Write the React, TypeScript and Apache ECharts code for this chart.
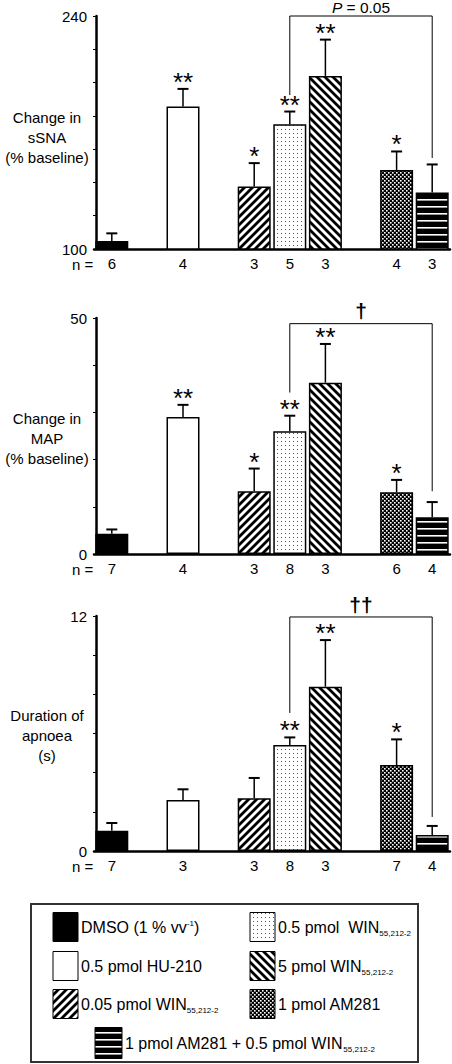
import React, { useEffect, useRef } from "react";
import * as echarts from "echarts";

const FONT = '"Liberation Sans", Arial, Helvetica, sans-serif';

// Treatments (legend order) and the x slot each one occupies
const treatments = [
  "DMSO (1 % vv-1)",
  "0.5 pmol HU-210",
  "0.05 pmol WIN55,212-2",
  "0.5 pmol WIN55,212-2",
  "5 pmol WIN55,212-2",
  "1 pmol AM281",
  "1 pmol AM281 + 0.5 pmol WIN55,212-2",
];
const slotOfTreatment = [0, 2, 4, 5, 6, 8, 9];
const SLOT_COUNT = 10;
const patternKinds = ["solid", "white", "diagUp", "dots", "diagDown", "checker", "hstripes"];

// Panel 1: change in sSNA (% baseline)
const sSNAMean = [104.8, 185.6, 137.6, 175.0, 204.0, 147.4, 134.0];
const sSNASem = [4.6, 10.6, 14.0, 7.6, 21.8, 11.2, 16.8];
const sSNAN = [6, 4, 3, 5, 3, 4, 3];
const sSNAStars = ["", "**", "*", "**", "**", "*", ""];
const sSNATicks = [100, 240];

// Panel 2: change in MAP (% baseline)
const mapMean = [4.3, 29.0, 13.3, 26.0, 36.3, 13.1, 7.8];
const mapSem = [0.9, 2.6, 4.8, 3.3, 8.2, 2.6, 3.2];
const mapN = [7, 4, 3, 8, 3, 6, 4];
const mapStars = ["", "**", "*", "**", "**", "*", ""];
const mapTicks = [0, 50];

// Panel 3: duration of apnoea (s)
const apnMean = [1.04, 2.6, 2.69, 5.41, 8.39, 4.39, 0.82];
const apnSem = [0.39, 0.55, 1.04, 0.39, 2.38, 1.31, 0.46];
const apnN = [7, 3, 3, 8, 3, 7, 4];
const apnStars = ["", "", "", "**", "**", "*", ""];
const apnTicks = [0, 12];

// Comparison brackets (0.5 pmol WIN vs AM281 + WIN): [top, left end, right end]
const bracketSSNA = [240, 192.5, 154.7];
const bracketMAP = [48.8, 34.2, 13.3];
const bracketApn = [11.95, 7.05, 1.74];

type Panel = {
  mean: number[];
  sem: number[];
  n: number[];
  stars: string[];
  ticks: number[];
  min: number;
  max: number;
  interval: number;
  title: string;
  titleY: number;
  top: number;
  height: number;
  bracket: number[];
  bracketLabel: string;
  labelGap: number;
};

const panels: Panel[] = [
  { mean: sSNAMean, sem: sSNASem, n: sSNAN, stars: sSNAStars, ticks: sSNATicks, min: 100, max: 240, interval: 20,
    title: "Change in\nsSNA\n(% baseline)", titleY: 137, top: 16, height: 233, bracket: bracketSSNA,
    bracketLabel: "{i|P}{n| = 0.05}", labelGap: 9 },
  { mean: mapMean, sem: mapSem, n: mapN, stars: mapStars, ticks: mapTicks, min: 0, max: 50, interval: 10,
    title: "Change in\nMAP\n(% baseline)", titleY: 438, top: 318, height: 236, bracket: bracketMAP,
    bracketLabel: "{d|†}", labelGap: 13 },
  { mean: apnMean, sem: apnSem, n: apnN, stars: apnStars, ticks: apnTicks, min: 0, max: 12, interval: 2,
    title: "Duration of\napnoea\n(s)", titleY: 735, top: 616, height: 235, bracket: bracketApn,
    bracketLabel: "{d|††}", labelGap: 12 },
];

function makeCanvas(w: number, h: number, draw: (c: CanvasRenderingContext2D) => void) {
  const cv = document.createElement("canvas");
  cv.width = w;
  cv.height = h;
  const ctx = cv.getContext("2d")!;
  draw(ctx);
  return { image: cv, repetition: "repeat", imageWidth: w, imageHeight: h } as any;
}

function makeFill(kind: string): any {
  if (kind === "solid") return "#000";
  if (kind === "white") return "#fff";
  if (kind === "diagUp" || kind === "diagDown") {
    return makeCanvas(8, 8, (c) => {
      c.fillStyle = "#fff";
      c.fillRect(0, 0, 8, 8);
      c.strokeStyle = "#000";
      c.lineWidth = 2.8;
      c.beginPath();
      for (const o of [-8, 0, 8]) {
        if (kind === "diagUp") {
          c.moveTo(o - 1, 9);
          c.lineTo(o + 9, -1);
        } else {
          c.moveTo(o - 1, -1);
          c.lineTo(o + 9, 9);
        }
      }
      c.stroke();
    });
  }
  if (kind === "dots") {
    return makeCanvas(4, 4, (c) => {
      c.fillStyle = "#fff";
      c.fillRect(0, 0, 4, 4);
      c.fillStyle = "#555";
      c.fillRect(1, 1, 1, 1);
    });
  }
  if (kind === "checker") {
    return makeCanvas(4, 4, (c) => {
      c.fillStyle = "#000";
      c.fillRect(0, 0, 4, 4);
      c.fillStyle = "#fff";
      c.fillRect(0, 0, 1.6, 1.6);
      c.fillRect(2, 2, 1.6, 1.6);
    });
  }
  // horizontal stripes
  return makeCanvas(4, 7, (c) => {
    c.fillStyle = "#000";
    c.fillRect(0, 0, 4, 7);
    c.fillStyle = "#fff";
    c.fillRect(0, 3, 4, 1.6);
  });
}

export default function App() {
  const ref = useRef<HTMLDivElement>(null);

  useEffect(() => {
    if (!ref.current) return;
    const chart = echarts.init(ref.current, undefined, { renderer: "svg" });
    const fills = patternKinds.map(makeFill);

    const categories = Array.from({ length: SLOT_COUNT }, (_, s) => {
      const t = slotOfTreatment.indexOf(s);
      return t >= 0 ? treatments[t] : `gap${s}`;
    });

    const grids: any[] = [];
    const xAxes: any[] = [];
    const yAxes: any[] = [];
    const series: any[] = [];
    const graphics: any[] = [];

    panels.forEach((p, pi) => {
      grids.push({ left: 94, width: 356, top: p.top, height: p.height, containLabel: false });
      xAxes.push({
        type: "category",
        gridIndex: pi,
        data: categories,
        boundaryGap: true,
        axisLine: { lineStyle: { color: "#000", width: 2.5 } },
        axisTick: { show: false },
        axisLabel: {
          interval: 0,
          margin: 8,
          color: "#000",
          fontSize: 15,
          lineHeight: 13,
          fontFamily: FONT,
          formatter: (_v: string, idx: number) => {
            const t = slotOfTreatment.indexOf(idx);
            return t >= 0 ? String(p.n[t]) : "";
          },
        },
        splitLine: { show: false },
      });
      yAxes.push({
        type: "value",
        gridIndex: pi,
        min: p.min,
        max: p.max,
        interval: p.interval,
        offset: -2,
        axisLine: { show: true, lineStyle: { color: "#000", width: 2.5 } },
        axisTick: { show: true, length: 3, lineStyle: { color: "#000", width: 1 } },
        axisLabel: {
          margin: 9,
          color: "#000",
          fontSize: 15,
          lineHeight: 13,
          fontFamily: FONT,
          formatter: (v: number) => (p.ticks.includes(v) ? String(v) : ""),
        },
        splitLine: { show: false },
      });

      const barData: any[] = Array.from({ length: SLOT_COUNT }, () => "-");
      p.mean.forEach((m, t) => {
        barData[slotOfTreatment[t]] = {
          value: m,
          itemStyle: { color: fills[t], borderColor: "#000", borderWidth: 1.5 },
        };
      });
      series.push({
        type: "bar",
        xAxisIndex: pi,
        yAxisIndex: pi,
        data: barData,
        barWidth: 33,
        z: 2,
        silent: true,
      });

      series.push({
        type: "custom",
        xAxisIndex: pi,
        yAxisIndex: pi,
        z: 4,
        data: p.mean.map((m, t) => [slotOfTreatment[t], m, m + p.sem[t]]),
        renderItem: (params: any, api: any) => {
          const slot = api.value(0);
          const base = api.coord([slot, api.value(1)]);
          const tip = api.coord([slot, api.value(2)]);
          const stars = p.stars[params.dataIndex];
          const children: any[] = [
            { type: "line", shape: { x1: base[0], y1: base[1], x2: tip[0], y2: tip[1] }, style: { stroke: "#000", lineWidth: 1.5 } },
            { type: "line", shape: { x1: tip[0] - 5.5, y1: tip[1], x2: tip[0] + 5.5, y2: tip[1] }, style: { stroke: "#000", lineWidth: 2 } },
          ];
          if (stars) {
            children.push({
              type: "text",
              x: tip[0],
              y: tip[1] - 7,
              style: { text: stars, font: `26px ${FONT}`, fill: "#000", align: "center", verticalAlign: "middle" },
            });
          }
          return { type: "group", children };
        },
      });

      const leftSlot = slotOfTreatment[3];
      const rightSlot = slotOfTreatment[6];
      series.push({
        type: "custom",
        xAxisIndex: pi,
        yAxisIndex: pi,
        z: 5,
        data: [[leftSlot, p.bracket[0]]],
        renderItem: (_params: any, api: any) => {
          const lt = api.coord([leftSlot, p.bracket[0]]);
          const rt = api.coord([rightSlot, p.bracket[0]]);
          const le = api.coord([leftSlot, p.bracket[1]]);
          const re = api.coord([rightSlot, p.bracket[2]]);
          return {
            type: "group",
            children: [
              { type: "polyline", shape: { points: [[le[0], le[1]], [lt[0], lt[1]], [rt[0], rt[1]], [re[0], re[1]]] }, style: { stroke: "#000", lineWidth: 1, fill: null } },
              {
                type: "text",
                x: (lt[0] + rt[0]) / 2,
                y: lt[1] - p.labelGap,
                style: {
                  text: p.bracketLabel,
                  fill: "#000",
                  align: "center",
                  verticalAlign: "middle",
                  rich: {
                    i: { font: `italic 15.5px ${FONT}`, fill: "#000", color: "#000", lineHeight: 14 },
                    n: { font: `15.5px ${FONT}`, fill: "#000", color: "#000", lineHeight: 14 },
                    d: { font: `bold 21px ${FONT}`, fill: "#000", color: "#000" },
                  },
                },
              },
            ],
          };
        },
      });

      graphics.push({
        type: "text",
        x: 47,
        y: p.titleY,
        style: { text: p.title, font: `15px ${FONT}`, fill: "#000", align: "center", verticalAlign: "middle", lineHeight: 20 },
      });
      graphics.push({
        type: "text",
        x: 72,
        y: p.top + p.height + 15,
        style: { text: "n =", font: `15px ${FONT}`, fill: "#000", align: "left", verticalAlign: "middle", lineHeight: 13 },
      });
    });

    // Legend box
    graphics.push({
      type: "rect",
      shape: { x: 31, y: 904, width: 387, height: 158 },
      style: { fill: "#fff", stroke: "#333", lineWidth: 2 },
      z: -1,
    });
    const richLegend = {
      a: { font: `16px ${FONT}`, fill: "#000" },
      s: { font: `8px ${FONT}`, fill: "#000", verticalAlign: "bottom", padding: [0, 0, -2, 0] },
      sup: { font: `8px ${FONT}`, fill: "#000", verticalAlign: "top" },
    };
    const legendTexts = [
      "{a|DMSO (1 % vv}{sup|-1}{a|)}",
      "{a|0.5 pmol HU-210}",
      "{a|0.05 pmol WIN}{s|55,212-2}",
      "{a|0.5 pmol  WIN}{s|55,212-2}",
      "{a|5 pmol WIN}{s|55,212-2}",
      "{a|1 pmol AM281}",
      "{a|1 pmol AM281 + 0.5 pmol WIN}{s|55,212-2}",
    ];
    const legendPos = [
      [53, 927, 25, 29],
      [53, 966, 25, 29],
      [53, 1004, 25, 29],
      [250, 927, 25, 29],
      [250, 966, 25, 29],
      [250, 1004, 25, 29],
      [95, 1043, 27, 31],
    ];
    legendPos.forEach(([x, y, w, h], t) => {
      graphics.push({
        type: "rect",
        shape: { x, y: y - h / 2, width: w, height: h },
        style: { fill: fills[t], stroke: "#000", lineWidth: 1 },
      });
      graphics.push({
        type: "text",
        x: x + w + 3,
        y,
        style: { text: legendTexts[t], fill: "#000", rich: richLegend, align: "left", verticalAlign: "middle" },
      });
    });

    chart.setOption({
      animation: false,
      backgroundColor: "#fff",
      textStyle: { fontFamily: FONT },
      grid: grids,
      xAxis: xAxes,
      yAxis: yAxes,
      series,
      graphic: { elements: graphics },
    });
    return () => chart.dispose();
  }, []);

  return (
    <div
      ref={ref}
      style={{ position: "absolute", left: 0, top: 0, width: 452, height: 1064, background: "#fff" }}
    />
  );
}
